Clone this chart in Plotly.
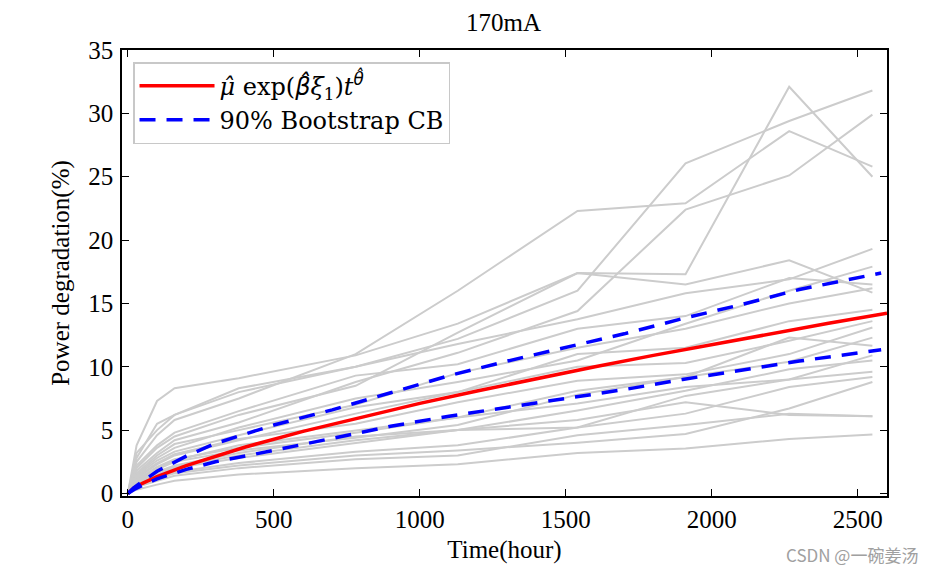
import plotly.graph_objects as go

# ---------------- data ----------------
times = [0, 30, 100, 160, 380, 780, 1130, 1540, 1910, 2265, 2550]

paths = [
    [0, 2.5, 4.6, 5.8, 7.5, 11.0, 16.0, 22.3, 22.9, 28.6, 25.8],
    [0, 3.2, 5.0, 6.2, 8.0, 10.0, 12.2, 16.0, 26.05, 29.4, 31.8],
    [0, 2.0, 3.6, 4.5, 6.2, 8.5, 12.7, 17.4, 17.3, 32.1, 25.0],
    [0, 1.8, 3.2, 4.2, 5.6, 8.8, 11.1, 14.4, 22.4, 25.1, 29.9],
    [0, 3.8, 7.3, 8.3, 9.1, 10.9, 13.4, 17.4, 16.5, 18.4, 15.85],
    [0, 2.8, 5.5, 6.2, 8.3, 10.0, 11.8, 13.75, 15.8, 16.9, 19.3],
    [0, 2.2, 3.8, 4.8, 6.5, 9.3, 10.2, 13.0, 14.0, 17.0, 16.5],
    [0, 1.5, 2.8, 3.6, 5.2, 7.5, 8.8, 10.5, 13.4, 16.0, 17.9],
    [0, 1.6, 3.0, 3.9, 5.0, 7.0, 9.5, 11.5, 13.0, 15.0, 16.2],
    [0, 1.4, 2.6, 3.3, 4.6, 6.8, 8.0, 11.0, 11.5, 13.6, 14.5],
    [0, 1.2, 2.3, 3.0, 4.2, 6.3, 8.0, 10.0, 10.3, 12.05, 13.6],
    [0, 1.3, 2.4, 3.1, 4.3, 5.5, 7.2, 8.9, 9.4, 11.0, 13.1],
    [0, 1.0, 2.0, 2.6, 3.8, 5.0, 6.0, 8.1, 9.2, 12.3, 11.65],
    [0, 1.1, 2.1, 2.7, 3.6, 4.8, 6.0, 7.1, 8.4, 9.0, 10.9],
    [0, 0.9, 1.7, 2.2, 3.2, 4.5, 5.0, 6.55, 8.1, 9.8, 10.5],
    [0, 0.8, 1.5, 2.0, 2.8, 4.0, 5.0, 5.2, 7.7, 9.0, 9.6],
    [0, 0.7, 1.3, 1.7, 2.4, 3.3, 3.8, 5.2, 6.3, 8.4, 9.2],
    [0, 0.6, 1.2, 1.6, 2.2, 3.0, 3.4, 4.0, 4.7, 6.7, 8.8],
    [0, 0.9, 1.6, 2.1, 3.0, 4.2, 5.0, 5.8, 7.2, 6.2, 6.1],
    [0, 0.5, 1.0, 1.4, 2.0, 2.7, 3.0, 4.6, 5.4, 6.3, 6.1],
    [0, 0.3, 0.7, 1.0, 1.5, 2.0, 2.3, 3.2, 3.55, 4.3, 4.65],
    [0, 1.0, 1.9, 2.5, 3.4, 4.4, 5.4, 7.8, 9.2, 10.4, 12.3],
]

fit_t = [0, 20, 50, 100, 200, 300, 400, 600, 800, 1000, 1200, 1400, 1600,
         1800, 2000, 2200, 2400, 2600]
fit_mean = [0, 0.41, 0.80, 1.33, 2.20, 2.96, 3.65, 4.90, 6.04, 7.11, 8.11,
            9.08, 10.0, 10.9, 11.76, 12.6, 13.43, 14.23]

cb_t = [0, 20, 50, 100, 200, 300, 500, 700, 900, 1100, 1300, 1500, 1700,
        1900, 2100, 2300, 2580]
cb_upper = [0, 0.45, 0.95, 1.75, 2.95, 3.95, 5.4, 6.6, 7.95, 9.3, 10.45,
            11.55, 12.6, 13.8, 14.9, 16.1, 17.4]
cb_lower = [0, 0.3, 0.65, 1.15, 1.9, 2.5, 3.4, 4.35, 5.3, 6.1, 6.8, 7.5,
            8.2, 9.0, 9.7, 10.45, 11.35]

x_ticks = [0, 500, 1000, 1500, 2000, 2500]
y_ticks = [0, 5, 10, 15, 20, 25, 30, 35]

# ---------------- figure ----------------
fig = go.Figure()

for p in paths:
    fig.add_trace(go.Scatter(x=times, y=p, mode="lines",
                             line=dict(color="rgb(204,204,204)", width=2),
                             showlegend=False, hoverinfo="skip"))

sans = "<span style=\"font-family:'DejaVu Sans'\">"
fit_name = ("<i>μ̂</i> exp(" + sans + "<i>β̂</i></span><i>ξ</i><sub>1</sub>)"
            "<i>t</i><sup>" + sans + "<i>θ̂</i></span></sup>")

fig.add_trace(go.Scatter(
    x=fit_t, y=fit_mean, mode="lines",
    line=dict(color="rgb(255,0,0)", width=3.5),
    name=fit_name))
fig.add_trace(go.Scatter(
    x=cb_t, y=cb_upper, mode="lines",
    line=dict(color="rgb(0,0,255)", width=3.5, dash="16px,11px"),
    name="90% Bootstrap CB"))
fig.add_trace(go.Scatter(
    x=cb_t, y=cb_lower, mode="lines",
    line=dict(color="rgb(0,0,255)", width=3.5, dash="16px,11px"),
    showlegend=False))

serif = "Liberation Serif, Times New Roman, serif"
axis_common = dict(
    showline=True, linecolor="black", linewidth=1.5, mirror="ticks",
    ticks="inside", ticklen=7, tickwidth=1, tickcolor="black",
    showgrid=False, zeroline=False,
    tickfont=dict(family=serif, size=25, color="black"),
)

fig.update_layout(
    width=935, height=573,
    margin=dict(l=114, r=56, t=42, b=85),
    paper_bgcolor="white", plot_bgcolor="white",
    title=dict(text="170mA", x=0.53, xanchor="center", y=0.9756,
               yanchor="middle", font=dict(family=serif, size=25, color="black")),
    xaxis=dict(range=[-20, 2600], tickvals=x_ticks,
               title=dict(text="Time(hour)", standoff=9,
                          font=dict(family=serif, size=25, color="black")),
               ticklabelstandoff=0, **axis_common),
    yaxis=dict(range=[-0.2, 35], tickvals=y_ticks,
               title=dict(text="Power degradation(%)", standoff=12,
                          font=dict(family=serif, size=25, color="black")),
               ticklabelstandoff=2, **axis_common),
    legend=dict(x=0.0144, y=0.973, xanchor="left", yanchor="top",
                bgcolor="white", bordercolor="rgb(200,200,200)", borderwidth=1.5,
                font=dict(family="DejaVu Serif", size=24, color="black"),
                itemwidth=75, tracegroupgap=0),
    annotations=[dict(text="CSDN @一碗姜汤", xref="paper", yref="paper",
                      x=1.043, y=-0.132, xanchor="right", yanchor="middle",
                      showarrow=False,
                      font=dict(family="Noto Sans CJK SC", size=17,
                                color="rgb(160,160,160)"))],
)

fig.write_html("out.html")
